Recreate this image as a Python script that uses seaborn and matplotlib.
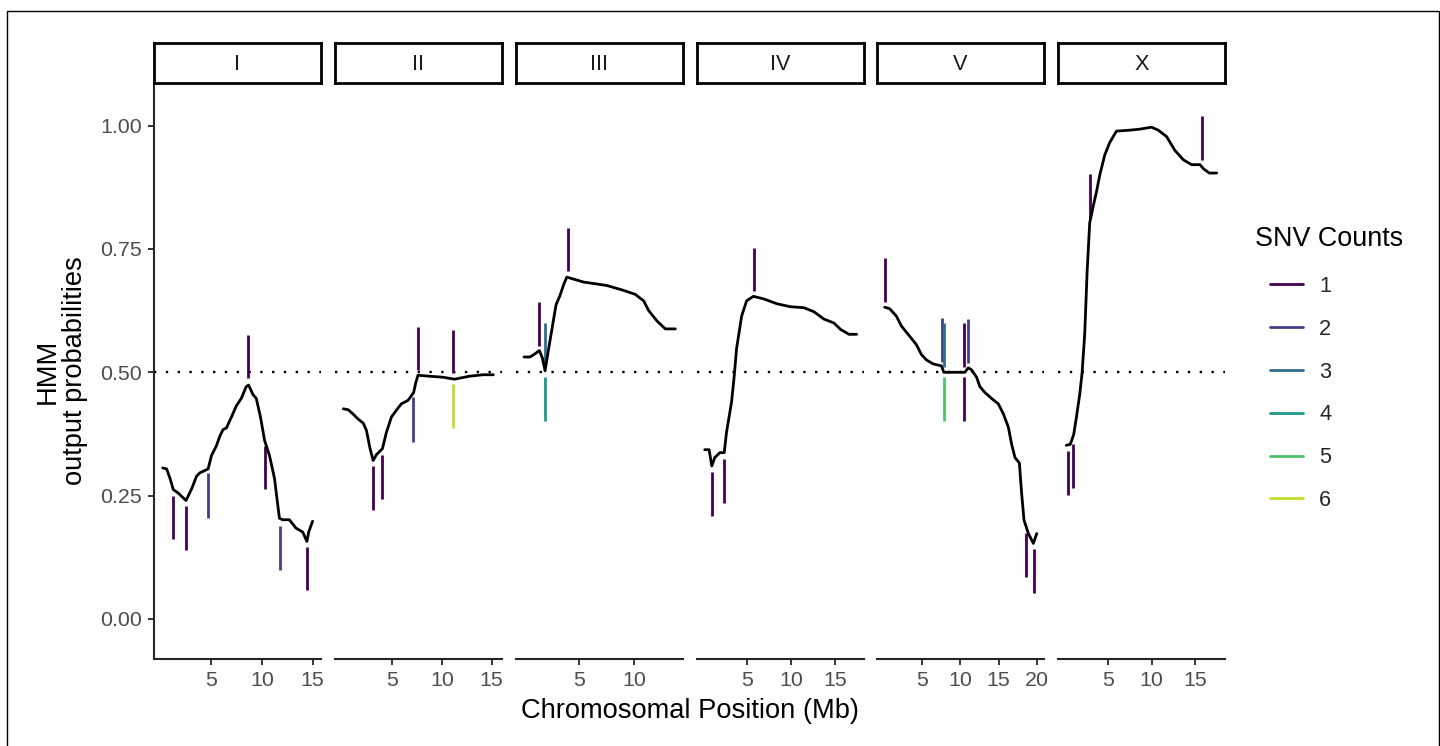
# HMM output probabilities along each chromosome, with SNV count segments

import numpy as np
import pandas as pd
import matplotlib
matplotlib.use("Agg")
import matplotlib.pyplot as plt
import seaborn as sns
from matplotlib.lines import Line2D
from matplotlib.patches import Rectangle

# ============================================================
# DATA
# ============================================================

chroms = ["I", "II", "III", "IV", "V", "X"]

# HMM line (position in Mb, probability)
pos_I = [0.18, 0.57, 0.90, 1.23, 1.72, 2.48, 3.03, 3.52, 3.85, 4.67, 5.00, 5.49,
         5.82, 6.15, 6.48, 6.97, 7.46, 7.95, 8.44, 8.67, 9.10, 9.43, 9.85, 10.25,
         10.74, 11.23, 11.72, 12.05, 12.70, 13.36, 14.02, 14.44, 14.61, 15.00]
prob_I = [0.306, 0.304, 0.285, 0.262, 0.255, 0.240, 0.263, 0.289, 0.296, 0.304,
          0.331, 0.351, 0.370, 0.384, 0.387, 0.409, 0.432, 0.447, 0.471, 0.474,
          0.455, 0.447, 0.409, 0.362, 0.331, 0.285, 0.204, 0.201, 0.201, 0.184,
          0.176, 0.157, 0.176, 0.198]

pos_II = [0.10, 0.60, 1.10, 1.60, 2.10, 2.43, 2.77, 3.10, 3.43, 4.03, 4.43, 4.93,
          5.43, 5.93, 6.60, 7.17, 7.37, 7.60, 8.77, 10.10, 11.27, 12.77, 14.10, 15.17]
prob_II = [0.426, 0.424, 0.415, 0.405, 0.397, 0.382, 0.347, 0.321, 0.333, 0.345,
           0.378, 0.409, 0.423, 0.436, 0.443, 0.459, 0.478, 0.494, 0.492, 0.490,
           0.486, 0.492, 0.495, 0.495]

pos_III = [0.06, 0.60, 0.96, 1.45, 1.72, 1.96, 2.26, 2.56, 2.95, 3.31, 3.67, 3.92,
           4.22, 5.42, 6.33, 7.53, 9.04, 10.09, 10.84, 11.30, 12.05, 12.80, 13.70]
prob_III = [0.531, 0.531, 0.536, 0.544, 0.529, 0.503, 0.545, 0.585, 0.637, 0.656,
            0.680, 0.693, 0.691, 0.683, 0.680, 0.676, 0.666, 0.658, 0.645, 0.625,
            0.604, 0.588, 0.588]

pos_IV = [0.13, 0.63, 0.94, 1.28, 1.86, 2.36, 2.62, 3.20, 3.51, 3.77, 4.35, 4.92,
          5.69, 6.84, 8.37, 9.90, 11.44, 12.59, 13.74, 14.89, 15.65, 16.61, 17.49]
prob_IV = [0.343, 0.343, 0.310, 0.327, 0.337, 0.337, 0.378, 0.440, 0.494, 0.548,
           0.614, 0.645, 0.654, 0.649, 0.639, 0.633, 0.631, 0.623, 0.608, 0.600,
           0.587, 0.577, 0.577]

pos_V = [0.11, 0.76, 1.64, 2.29, 3.38, 4.26, 4.91, 5.57, 6.44, 7.53, 7.84, 10.59,
         11.03, 11.46, 12.12, 12.55, 13.21, 14.08, 14.96, 15.61, 16.27, 16.70, 17.14,
         17.71, 18.01, 18.32, 18.89, 19.54, 19.98]
prob_V = [0.632, 0.629, 0.614, 0.594, 0.573, 0.556, 0.536, 0.525, 0.517, 0.513,
          0.500, 0.500, 0.509, 0.505, 0.490, 0.471, 0.459, 0.447, 0.436, 0.416,
          0.389, 0.354, 0.327, 0.316, 0.254, 0.200, 0.173, 0.153, 0.173]

pos_X = [0.19, 0.65, 1.04, 1.35, 1.73, 2.00, 2.31, 2.58, 2.88, 3.35, 3.65, 4.04,
         4.62, 5.19, 5.96, 7.50, 8.65, 10.00, 10.77, 11.73, 12.69, 13.65, 14.62,
         15.58, 15.96, 16.65, 17.50]
prob_X = [0.352, 0.354, 0.374, 0.409, 0.455, 0.498, 0.579, 0.703, 0.803, 0.842,
          0.865, 0.900, 0.941, 0.966, 0.989, 0.991, 0.993, 0.997, 0.991, 0.978,
          0.950, 0.931, 0.921, 0.921, 0.913, 0.904, 0.904]

# SNV segments (position, y start, y end, SNV count)
seg_x_I = [1.23, 2.48, 4.70, 8.61, 10.25, 11.82, 14.48]
seg_y0_I = [0.250, 0.229, 0.295, 0.575, 0.351, 0.188, 0.146]
seg_y1_I = [0.161, 0.139, 0.205, 0.488, 0.263, 0.099, 0.058]
seg_n_I = [1, 1, 2, 1, 1, 2, 1]

seg_x_II = [3.13, 3.97, 7.13, 7.60, 11.10, 11.10]
seg_y0_II = [0.310, 0.333, 0.449, 0.592, 0.585, 0.476]
seg_y1_II = [0.221, 0.244, 0.358, 0.504, 0.498, 0.387]
seg_n_II = [1, 1, 2, 1, 1, 6]

seg_x_III = [1.45, 1.96, 1.96, 4.07]
seg_y0_III = [0.642, 0.600, 0.490, 0.793]
seg_y1_III = [0.554, 0.511, 0.401, 0.705]
seg_n_III = [1, 3, 4, 1]

seg_x_IV = [0.98, 2.36, 5.77]
seg_y0_IV = [0.298, 0.324, 0.753]
seg_y1_IV = [0.209, 0.235, 0.664]
seg_n_IV = [1, 1, 1]

seg_x_V = [0.20, 7.62, 7.84, 7.84, 10.46, 10.94, 10.46, 18.62, 19.63]
seg_y0_V = [0.731, 0.610, 0.600, 0.490, 0.600, 0.608, 0.490, 0.175, 0.142]
seg_y1_V = [0.642, 0.521, 0.511, 0.401, 0.511, 0.519, 0.401, 0.085, 0.053]
seg_n_V = [1, 2, 3, 5, 1, 2, 1, 1, 1]

seg_x_X = [0.35, 0.96, 2.96, 15.77]
seg_y0_X = [0.341, 0.354, 0.902, 1.020]
seg_y1_X = [0.252, 0.265, 0.813, 0.931]
seg_n_X = [1, 1, 1, 1]

count_levels = [1, 2, 3, 4, 5, 6]

x_limits = [(-0.68, 15.83), (-0.73, 16.04), (-0.66, 14.39),
            (-0.75, 18.33), (-0.89, 20.93), (-0.77, 18.46)]
x_breaks = [[5, 10, 15], [5, 10, 15], [5, 10], [5, 10, 15], [5, 10, 15, 20], [5, 10, 15]]
y_breaks = [0.00, 0.25, 0.50, 0.75, 1.00]

# ============================================================
# TABLES
# ============================================================

line_parts = [(pos_I, prob_I), (pos_II, prob_II), (pos_III, prob_III),
              (pos_IV, prob_IV), (pos_V, prob_V), (pos_X, prob_X)]
seg_parts = [(seg_x_I, seg_y0_I, seg_y1_I, seg_n_I),
             (seg_x_II, seg_y0_II, seg_y1_II, seg_n_II),
             (seg_x_III, seg_y0_III, seg_y1_III, seg_n_III),
             (seg_x_IV, seg_y0_IV, seg_y1_IV, seg_n_IV),
             (seg_x_V, seg_y0_V, seg_y1_V, seg_n_V),
             (seg_x_X, seg_y0_X, seg_y1_X, seg_n_X)]

line_df = pd.concat([
    pd.DataFrame({"chrom": c, "pos": p, "prob": v})
    for c, (p, v) in zip(chroms, line_parts)
], ignore_index=True)

seg_df = pd.concat([
    pd.DataFrame({"chrom": c, "pos": x, "y0": a, "y1": b, "n": n})
    for c, (x, a, b, n) in zip(chroms, seg_parts)
], ignore_index=True)

# ============================================================
# STYLE
# ============================================================

sns.set_theme(style="ticks")
plt.rcParams["font.family"] = ["Liberation Sans", "DejaVu Sans"]

palette = dict(zip(count_levels, sns.color_palette("viridis", as_cmap=True)(np.linspace(0, 0.9, 6))))

W, H = 1440, 746
fig = plt.figure(figsize=(W / 100, H / 100), dpi=100)

panel_left = [154, 335, 516, 697, 877, 1058]
panel_w = 167
panel_top, panel_bot = 83.3, 659.3
strip_top, strip_bot = 43.3, 82.7

# ============================================================
# PANELS
# ============================================================

for i, c in enumerate(chroms):

    ax = fig.add_axes([panel_left[i] / W, 1 - panel_bot / H,
                       panel_w / W, (panel_bot - panel_top) / H])

    ax.axhline(0.5, color="black", lw=1.7, ls=(0, (1, 4.0)), zorder=1)

    sub = seg_df[seg_df.chrom == c]
    ax.vlines(sub.pos, sub.y0, sub.y1,
              colors=[palette[n] for n in sub.n], lw=2.0, zorder=2)

    sns.lineplot(
        data=line_df[line_df.chrom == c],
        x="pos", y="prob",
        color="black", linewidth=2.0,
        estimator=None, sort=False,
        ax=ax, zorder=3
    )

    ax.set_xlim(x_limits[i])
    ax.set_ylim(-0.082, 1.086)
    ax.set_xticks(x_breaks[i])
    ax.set_xticklabels([str(b) for b in x_breaks[i]])
    ax.set_xlabel("")
    ax.set_ylabel("")

    ax.spines["top"].set_visible(False)
    ax.spines["right"].set_visible(False)
    ax.spines["bottom"].set_linewidth(1.5)
    ax.spines["left"].set_linewidth(1.5)

    ax.tick_params(axis="both", length=4.3, width=1.4, color="#333333",
                   labelcolor="#4D4D4D", labelsize=15.4, pad=4.3)

    if i == 0:
        ax.set_yticks(y_breaks)
        ax.set_yticklabels([f"{b:.2f}" for b in y_breaks])
    else:
        ax.spines["left"].set_visible(False)
        ax.set_yticks([])

    # strip
    sax = fig.add_axes([panel_left[i] / W, 1 - strip_bot / H,
                        panel_w / W, (strip_bot - strip_top) / H])
    sax.set_xticks([])
    sax.set_yticks([])
    for sp in sax.spines.values():
        sp.set_linewidth(2.0)
        sp.set_color("black")
    sax.text(0.5, 0.45, c, ha="center", va="center",
             fontsize=15.7, color="#1A1A1A", transform=sax.transAxes)

# ============================================================
# TITLES, LEGEND, BORDER
# ============================================================

fig.text(690 / W, 1 - 711 / H, "Chromosomal Position (Mb)",
         ha="center", va="center", fontsize=19.6, color="black")

fig.text(61 / W, 1 - 371 / H, "HMM\noutput probabilities",
         ha="center", va="center", rotation=90, fontsize=19.6,
         linespacing=1.05, multialignment="center", color="black")

fig.text(1255 / W, 1 - 239 / H, "SNV Counts",
         ha="left", va="center", fontsize=19.4, color="black")

handles = [Line2D([], [], color=palette[n], lw=2.0) for n in count_levels]

fig.legend(
    handles,
    [str(n) for n in count_levels],
    loc="upper left",
    bbox_to_anchor=(1270 / W, 1 - 276 / H),
    frameon=False,
    fontsize=15.7,
    handlelength=1.5,
    handletextpad=0.75,
    labelspacing=1.0,
    borderpad=0,
    borderaxespad=0
)

fig.patches.append(Rectangle((7 / W, -0.05), 1432 / W, 1.05 - 10.7 / H,
                             transform=fig.transFigure, fill=False,
                             lw=1.0, ec="black"))

fig.savefig("out.png", dpi=100)
